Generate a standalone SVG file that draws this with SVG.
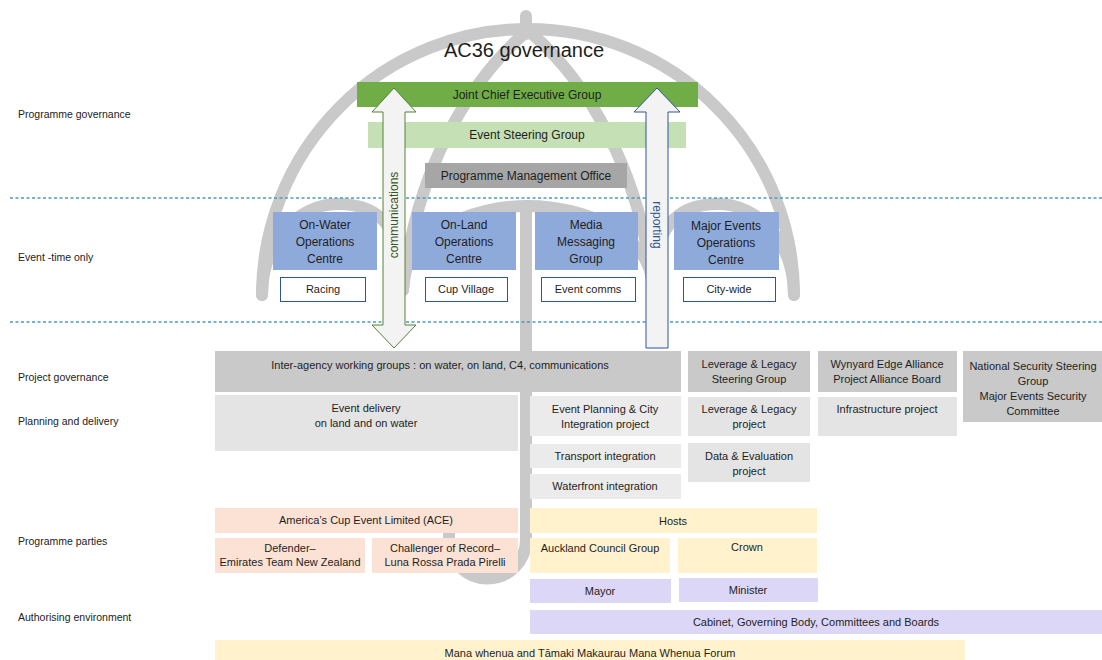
<svg xmlns="http://www.w3.org/2000/svg" width="1102" height="660" viewBox="0 0 1102 660">
<style>
text{font-family:"Liberation Sans",Arial,sans-serif;fill:#1e1e1e;text-anchor:middle}
.lbl{font-size:10.5px;text-anchor:start;fill:#222}
.t11{font-size:11px}
.t12{font-size:12px}
.um{fill:none;stroke:#c9c9c9;stroke-width:12;stroke-linecap:round}
.dash{stroke:#4a9ac4;stroke-width:1.5;stroke-dasharray:3 2.5}
.blue{fill:#8eaadb}
.sub{fill:#fff;stroke:#2f5597;stroke-width:1}
.pg{fill:#c9c9c9}
.pd{fill:#e4e4e4}
.peach{fill:#fbe2d4}
.yel{fill:#fff2cc}
.lav{fill:#dcd7f7}
</style>
<rect width="1102" height="660" fill="#fff"/>
<g id="umbrella">
<path class="um" d="M526 16 L526 34"/>
<path class="um" d="M262 295 A266 266 0 0 1 794 295"/>
<path class="um" d="M526 32 C470 80 415 170 403 290"/>
<path class="um" d="M530 32 C586 80 641 170 653 290"/>
<path class="um" d="M262 295 C262 245 296 204 338 204 C380 204 403 228 403 290"/>
<path class="um" d="M403 290 C403 235 470 206 528 206 C586 206 653 235 653 290"/>
<path class="um" d="M653 290 C653 228 676 204 718 204 C760 204 794 245 794 295"/>
<path class="um" d="M526 206 L526 540 A38.5 38.5 0 0 1 449 540 L449 531"/>
</g>
<g id="separators">
<line class="dash" x1="10" y1="198" x2="1102" y2="198"/>
<line class="dash" x1="10" y1="322" x2="1102" y2="322"/>
</g>
<g id="row-labels">
<text class="lbl" x="18" y="118">Programme governance</text>
<text class="lbl" x="18" y="261">Event -time only</text>
<text class="lbl" x="18" y="381">Project governance</text>
<text class="lbl" x="18" y="425">Planning and delivery</text>
<text class="lbl" x="18" y="545">Programme parties</text>
<text class="lbl" x="18" y="621">Authorising environment</text>
</g>
<text x="524" y="57" style="font-size:20px">AC36 governance</text>
<g id="jceg"><rect x="357" y="82" width="341" height="25" fill="#70ad47"/><text class="t12" x="527" y="99">Joint Chief Executive Group</text></g>
<g id="esg"><rect x="368" y="122" width="318" height="26" fill="#c5e0b4"/><text class="t12" x="527" y="139">Event Steering Group</text></g>
<g id="pmo"><rect x="425" y="163" width="202" height="25" fill="#a6a6a6"/><text class="t12" x="526" y="180">Programme Management Office</text></g>
<g id="on-water"><rect class="blue" x="273" y="212" width="104" height="58"/><text class="t12" x="325" y="229">On-Water</text><text class="t12" x="325" y="246">Operations</text><text class="t12" x="325" y="263">Centre</text></g>
<g id="on-land"><rect class="blue" x="412" y="212" width="104" height="58"/><text class="t12" x="464" y="229">On-Land</text><text class="t12" x="464" y="246">Operations</text><text class="t12" x="464" y="263">Centre</text></g>
<g id="media"><rect class="blue" x="535" y="212" width="103" height="58"/><text class="t12" x="586" y="229">Media</text><text class="t12" x="586" y="246">Messaging</text><text class="t12" x="586" y="263">Group</text></g>
<g id="major-events"><rect class="blue" x="674" y="212" width="105" height="58"/><text class="t12" x="726" y="230">Major Events</text><text class="t12" x="726" y="247">Operations</text><text class="t12" x="726" y="264">Centre</text></g>
<g id="racing"><rect class="sub" x="280.5" y="277.5" width="85" height="24"/><text class="t11" x="323" y="293">Racing</text></g>
<g id="cup-village"><rect class="sub" x="425.5" y="277.5" width="82" height="24"/><text class="t11" x="466" y="293">Cup Village</text></g>
<g id="event-comms"><rect class="sub" x="541.5" y="277.5" width="94" height="24"/><text class="t11" x="588" y="293">Event comms</text></g>
<g id="city-wide"><rect class="sub" x="683.5" y="277.5" width="92" height="24"/><text class="t11" x="729" y="293">City-wide</text></g>
<g id="connectors">
<polygon points="394,88 416,112 405,112 405,325 416,325 394,348 372,325 383,325 383,112 372,112" fill="#f3f3f3" stroke="#548235" stroke-width="1"/>
<polygon points="657,88 680,112 668,112 668,348 646,348 646,112 634,112" fill="#f3f3f3" stroke="#2f5597" stroke-width="1"/>
<text class="t12" transform="translate(398 215) rotate(-90)" style="fill:#375623">communications</text>
<text class="t12" transform="translate(653 225) rotate(90)" style="fill:#2f5597">reporting</text>
</g>
<g id="inter-agency"><rect class="pg" x="215" y="351" width="466" height="41"/><text class="t11" x="440" y="369">Inter-agency working groups : on water, on land, C4, communications</text></g>
<g id="ll-steering"><rect class="pg" x="688" y="351" width="122" height="41"/><text class="t11" x="749" y="368">Leverage &amp; Legacy</text><text class="t11" x="749" y="383">Steering Group</text></g>
<g id="wynyard"><rect class="pg" x="818" y="351" width="139" height="41"/><text class="t11" x="887" y="368">Wynyard Edge Alliance</text><text class="t11" x="887" y="383">Project Alliance Board</text></g>
<g id="national-security"><rect class="pg" x="963" y="351" width="139" height="71"/><text class="t11" x="1033" y="370">National Security Steering</text><text class="t11" x="1033" y="385">Group</text><text class="t11" x="1033" y="400">Major Events Security</text><text class="t11" x="1033" y="415">Committee</text></g>
<g id="event-delivery"><rect class="pd" x="215" y="395" width="303" height="56"/><text class="t11" x="366" y="412">Event delivery</text><text class="t11" x="366" y="427">on land and on water</text></g>
<g id="event-planning"><rect class="pd" x="530" y="396" width="151" height="40" style="fill:#ebebeb"/><text class="t11" x="605" y="413">Event Planning &amp; City</text><text class="t11" x="605" y="428">Integration project</text></g>
<g id="transport"><rect class="pd" x="530" y="444" width="151" height="24" style="fill:#ebebeb"/><text class="t11" x="605" y="460">Transport integration</text></g>
<g id="waterfront"><rect class="pd" x="530" y="474" width="151" height="25" style="fill:#ebebeb"/><text class="t11" x="605" y="490">Waterfront integration</text></g>
<g id="ll-project"><rect class="pd" x="688" y="397" width="122" height="39"/><text class="t11" x="749" y="413">Leverage &amp; Legacy</text><text class="t11" x="749" y="428">project</text></g>
<g id="data-eval"><rect class="pd" x="688" y="443" width="122" height="39"/><text class="t11" x="749" y="460">Data &amp; Evaluation</text><text class="t11" x="749" y="475">project</text></g>
<g id="infrastructure"><rect class="pd" x="818" y="397" width="139" height="39"/><text class="t11" x="887" y="413">Infrastructure project</text></g>
<g id="ace"><rect class="peach" x="215" y="508" width="303" height="25"/><text class="t11" x="366" y="524">America’s Cup Event Limited (ACE)</text></g>
<g id="defender"><rect class="peach" x="215" y="538" width="150" height="35"/><text class="t11" x="290" y="552">Defender–</text><text class="t11" x="290" y="566">Emirates Team New Zealand</text></g>
<g id="challenger"><rect class="peach" x="372" y="538" width="146" height="35"/><text class="t11" x="445" y="552">Challenger of Record–</text><text class="t11" x="445" y="566">Luna Rossa Prada Pirelli</text></g>
<g id="hosts"><rect class="yel" x="530" y="508" width="287" height="25"/><text class="t11" x="673" y="525">Hosts</text></g>
<g id="auckland"><rect class="yel" x="530" y="538" width="140" height="35"/><text class="t11" x="600" y="552">Auckland Council Group</text></g>
<g id="crown"><rect class="yel" x="678" y="538" width="139" height="35"/><text class="t11" x="747" y="551">Crown</text></g>
<g id="mayor"><rect class="lav" x="530" y="579" width="141" height="24"/><text class="t11" x="600" y="595">Mayor</text></g>
<g id="minister"><rect class="lav" x="679" y="578" width="139" height="24"/><text class="t11" x="748" y="594">Minister</text></g>
<g id="cabinet"><rect class="lav" x="530" y="610" width="572" height="24"/><text class="t11" x="816" y="626">Cabinet, Governing Body, Committees and Boards</text></g>
<g id="mana-whenua"><rect class="yel" x="215" y="640" width="750" height="20"/><text class="t11" x="590" y="657">Mana whenua and Tāmaki Makaurau  Mana Whenua Forum</text></g>
</svg>
